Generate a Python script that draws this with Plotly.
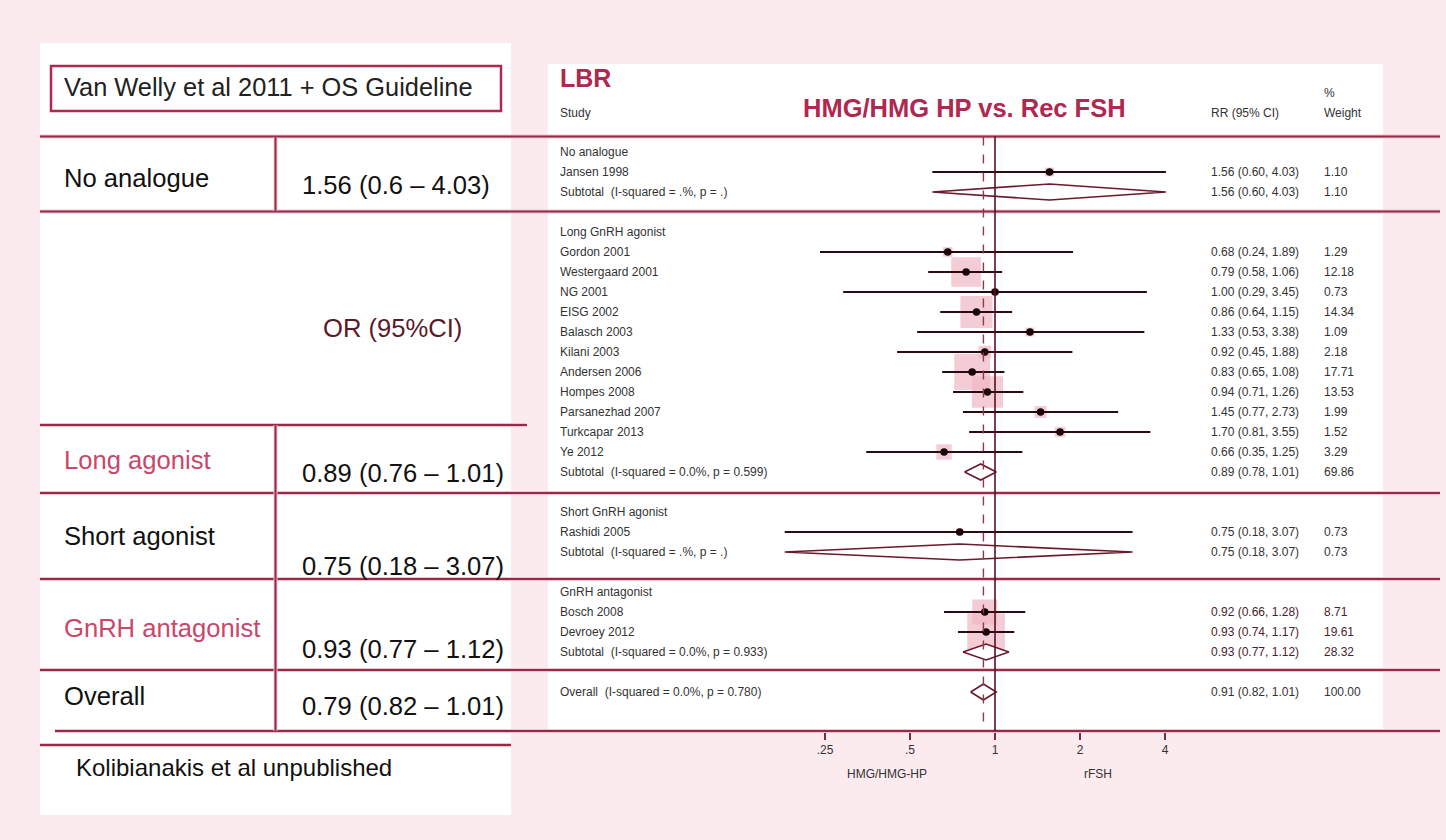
import math
import plotly.graph_objects as go

W, H = 1446, 840

# ---------------- data ----------------
group_names = ["No analogue", "Long GnRH agonist", "Short GnRH agonist", "GnRH antagonist"]
group_studies = [
    ["Jansen 1998"],
    ["Gordon 2001", "Westergaard 2001", "NG 2001", "EISG 2002", "Balasch 2003", "Kilani 2003",
     "Andersen 2006", "Hompes 2008", "Parsanezhad 2007", "Turkcapar 2013", "Ye 2012"],
    ["Rashidi 2005"],
    ["Bosch 2008", "Devroey 2012"],
]
study_rr = [[1.56], [0.68, 0.79, 1.00, 0.86, 1.33, 0.92, 0.83, 0.94, 1.45, 1.70, 0.66], [0.75], [0.92, 0.93]]
study_lo = [[0.60], [0.24, 0.58, 0.29, 0.64, 0.53, 0.45, 0.65, 0.71, 0.77, 0.81, 0.35], [0.18], [0.66, 0.74]]
study_hi = [[4.03], [1.89, 1.06, 3.45, 1.15, 3.38, 1.88, 1.08, 1.26, 2.73, 3.55, 1.25], [3.07], [1.28, 1.17]]
study_wt = [[1.10], [1.29, 12.18, 0.73, 14.34, 1.09, 2.18, 17.71, 13.53, 1.99, 1.52, 3.29], [0.73], [8.71, 19.61]]

subtotal_rr = [1.56, 0.89, 0.75, 0.93]
subtotal_lo = [0.60, 0.78, 0.18, 0.77]
subtotal_hi = [4.03, 1.01, 3.07, 1.12]
subtotal_wt = [1.10, 69.86, 0.73, 28.32]
subtotal_het = ["(I-squared = .%, p = .)", "(I-squared = 0.0%, p = 0.599)",
                "(I-squared = .%, p = .)", "(I-squared = 0.0%, p = 0.933)"]

overall_rr, overall_lo, overall_hi, overall_wt = 0.91, 0.82, 1.01, 100.00
overall_het = "(I-squared = 0.0%, p = 0.780)"

tick_vals = [0.25, 0.5, 1, 2, 4]
tick_text = [".25", ".5", "1", "2", "4"]

summary_labels = ["No analogue", "Long agonist", "Short agonist", "GnRH antagonist", "Overall"]
summary_values = ["1.56 (0.6 \u2013 4.03)", "0.89 (0.76 \u2013 1.01)", "0.75 (0.18 \u2013 3.07)",
                  "0.93 (0.77 \u2013 1.12)", "0.79 (0.82 \u2013 1.01)"]

# ---------------- layout helpers ----------------
ROW0, ROWH = 152, 20          # pixel of first row, pixel per row
X1, DBL = 995, 85             # pixel of RR = 1, pixels per doubling
FONT = "Liberation Sans, Arial, sans-serif"
MAROON = "#962a49"
HALO = "#f0c3ce"
PINK_BG = "#fbeaee"
TXT = "#333333"
SMALL = 12


def PX(x):
    return x / W


def PY(y):
    return 1 - y / H


def fmt_ci(r, l, h):
    return f"{r:.2f} ({l:.2f}, {h:.2f})"


fig = go.Figure()
shapes = []
ann = []

# panels
shapes.append(dict(type="rect", xref="paper", yref="paper", x0=PX(40), x1=PX(511), y0=PY(815), y1=PY(43),
                   fillcolor="white", line=dict(width=0), layer="below"))
shapes.append(dict(type="rect", xref="paper", yref="paper", x0=PX(548), x1=PX(1383), y0=PY(731), y1=PY(64),
                   fillcolor="white", line=dict(width=0), layer="below"))


def hline(y, x0, x1):
    for col, w in ((HALO, 4), (MAROON, 2)):
        shapes.append(dict(type="line", xref="paper", yref="paper", x0=PX(x0), x1=PX(x1), y0=PY(y), y1=PY(y),
                           line=dict(color=col, width=w)))


def vline(x, y0, y1):
    for col, w in ((HALO, 4), (MAROON, 2)):
        shapes.append(dict(type="line", xref="paper", yref="paper", x0=PX(x), x1=PX(x), y0=PY(y0), y1=PY(y1),
                           line=dict(color=col, width=w)))


for y in (136.5, 211.5, 493, 579, 670):
    hline(y, 40, 1440)
hline(731, 55, 1440)
hline(425, 40, 527)
hline(745, 40, 511)
vline(275.5, 137, 211)
vline(275.5, 425, 731)

# title box
shapes.append(dict(type="rect", xref="paper", yref="paper", x0=PX(51), x1=PX(501), y0=PY(111), y1=PY(66),
                   line=dict(color="#b0284f", width=2.5), fillcolor="rgba(0,0,0,0)"))

# ---------------- build rows ----------------
k = 0
box_x, box_y, box_s = [], [], []
ci_x, ci_y = [], []
dot_x, dot_y = [], []
diamonds = []
row_texts = []   # (row, label, rr_text, wt_text, color)

for g, name in enumerate(group_names):
    row_texts.append((k, name, "", "", TXT))
    k += 1
    col = "#4a1c2c" if g == 3 else TXT
    for s, st in enumerate(group_studies[g]):
        r, l, h, w = study_rr[g][s], study_lo[g][s], study_hi[g][s], study_wt[g][s]
        box_x.append(r); box_y.append(k); box_s.append(8.5 * math.sqrt(w))
        ci_x += [l, h, None]; ci_y += [k, k, None]
        dot_x.append(r); dot_y.append(k)
        row_texts.append((k, st, fmt_ci(r, l, h), f"{w:.2f}", col))
        k += 1
    diamonds.append((k, subtotal_lo[g], subtotal_rr[g], subtotal_hi[g]))
    row_texts.append((k, "Subtotal  " + subtotal_het[g],
                      fmt_ci(subtotal_rr[g], subtotal_lo[g], subtotal_hi[g]), f"{subtotal_wt[g]:.2f}", col))
    k += 2
diamonds.append((k, overall_lo, overall_rr, overall_hi))
row_texts.append((k, "Overall  " + overall_het, fmt_ci(overall_rr, overall_lo, overall_hi), f"{overall_wt:.2f}", TXT))

# weight boxes
fig.add_trace(go.Scatter(x=box_x, y=box_y, mode="markers", hoverinfo="skip",
                         marker=dict(symbol="square", size=box_s, color="#f0b6c3", line=dict(width=0))))
# CI lines
fig.add_trace(go.Scatter(x=ci_x, y=ci_y, mode="lines", hoverinfo="skip",
                         line=dict(color="#2b0a12", width=2)))
# point estimates
fig.add_trace(go.Scatter(x=dot_x, y=dot_y, mode="markers", hoverinfo="skip",
                         marker=dict(symbol="circle", size=7.5, color="#1a0508")))
# diamonds
for (row, l, r, h) in diamonds:
    fig.add_trace(go.Scatter(x=[l, r, h, r, l], y=[row, row - 0.4, row, row + 0.4, row],
                             mode="lines", fill="toself", fillcolor="white", hoverinfo="skip",
                             line=dict(color="#6a1a2c", width=1.6)))

# null line & overall dashed line
y_top = (136.5 - ROW0) / ROWH
y_bot = (731 - ROW0) / ROWH
shapes.append(dict(type="line", xref="x", yref="y", x0=1, x1=1, y0=y_top, y1=y_bot,
                   line=dict(color="#5a1020", width=1.6)))
shapes.append(dict(type="line", xref="x", yref="y", x0=overall_rr, x1=overall_rr, y0=y_top, y1=y_bot,
                   line=dict(color="#8a3a4a", width=1.4, dash="dash")))

# right text columns
for (row, lab, rrt, wtt, col) in row_texts:
    ann.append(dict(x=PX(558), xref="paper", y=row, yref="y", text=lab, showarrow=False,
                    xanchor="left", yanchor="middle", font=dict(family=FONT, size=SMALL, color=TXT)))
    if rrt:
        ann.append(dict(x=PX(1209), xref="paper", y=row, yref="y", text=rrt, showarrow=False,
                        xanchor="left", yanchor="middle", font=dict(family=FONT, size=SMALL, color=col)))
        ann.append(dict(x=PX(1322), xref="paper", y=row, yref="y", text=wtt, showarrow=False,
                        xanchor="left", yanchor="middle", font=dict(family=FONT, size=SMALL, color=col)))


def ptxt(x, y, text, size, color=TXT, anchor="left", bold=False):
    ann.append(dict(x=PX(x), y=PY(y), xref="paper", yref="paper", text=(f"<b>{text}</b>" if bold else text),
                    showarrow=False, xanchor=anchor, yanchor="middle",
                    font=dict(family=FONT, size=size, color=color)))


# header texts (right panel)
ptxt(558, 78, "LBR", 25, "#b0284f", bold=True)
ptxt(965, 108, "HMG/HMG HP vs. Rec FSH", 25.5, "#b0284f", anchor="center", bold=True)
ptxt(558, 113, "Study", SMALL)
ptxt(1209, 113, "RR (95% CI)", SMALL)
ptxt(1322, 93, "%", SMALL)
ptxt(1322, 113, "Weight", SMALL)
ptxt(887, 774, "HMG/HMG-HP", SMALL, anchor="center")
ptxt(1098, 774, "rFSH", SMALL, anchor="center")

# left panel texts
ptxt(62, 87, "Van Welly et al 2011 + OS Guideline", 25.4, "#222222")
left_label_y = [178, 460, 536, 628, 696]
left_value_y = [185, 473, 566, 649, 706]
left_label_col = ["#111111", "#c9476a", "#111111", "#c9476a", "#111111"]
for i in range(len(summary_labels)):
    ptxt(62, left_label_y[i], summary_labels[i], 25.6, left_label_col[i])
    ptxt(300, left_value_y[i], summary_values[i], 25.6, "#111111")
ptxt(392, 328, "OR (95%CI)", 25.6, "#5a1a2a", anchor="center")
ptxt(74, 767, "Kolibianakis et al unpublished", 24, "#111111")

xr = [(0 - X1) / DBL * math.log10(2), (W - X1) / DBL * math.log10(2)]
fig.update_layout(
    width=W, height=H, margin=dict(l=0, r=0, t=0, b=0),
    paper_bgcolor=PINK_BG, plot_bgcolor="rgba(0,0,0,0)",
    showlegend=False, shapes=shapes, annotations=ann,
    xaxis=dict(type="log", range=xr, domain=[0, 1], anchor="free", position=1 - 731 / H,
               tickvals=tick_vals, ticktext=tick_text, ticks="outside", ticklen=8, tickwidth=2,
               tickcolor="#7a2a3a", showline=False, showgrid=False, zeroline=False,
               tickfont=dict(family=FONT, size=SMALL, color=TXT), fixedrange=True),
    yaxis=dict(range=[(H - ROW0) / ROWH, -ROW0 / ROWH], domain=[0, 1], visible=False, fixedrange=True),
)

fig.write_html("out.html", config={"displayModeBar": False},
               post_script="document.body.style.margin='0';document.body.style.overflow='hidden';")
